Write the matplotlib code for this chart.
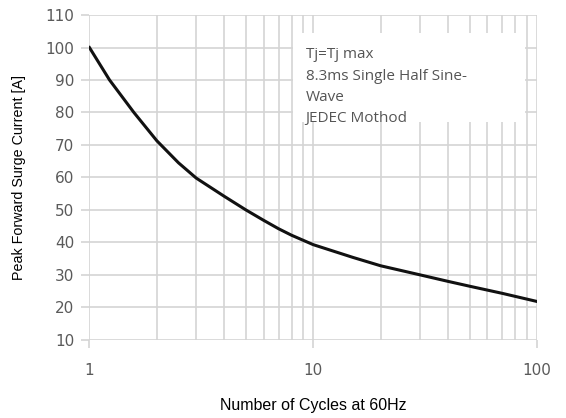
import matplotlib.pyplot as plt
from matplotlib.ticker import LogLocator, NullFormatter, FixedLocator

# Surge current curve
cycles = [1, 1.23, 1.58, 2, 2.5, 3, 4, 5, 6, 7, 8, 10, 15, 20, 30, 40, 50, 70, 100]
current = [100, 90, 80, 71.3, 64.5, 59.8, 54.2, 50, 46.8, 44.2, 42.2, 39.3, 35.4, 32.8,
           30, 28, 26.5, 24.3, 21.8]

y_ticks = [10, 20, 30, 40, 50, 60, 70, 80, 90, 100, 110]
x_ticks = [1, 10, 100]
x_tick_labels = ['1', '10', '100']

note_lines = ['Tj=Tj max', '8.3ms Single Half Sine-', 'Wave', 'JEDEC Mothod']

grid_col = '#d4d4d4'

fig = plt.figure(figsize=(5.66, 4.18), dpi=100)
ax = fig.add_axes([0.158, 0.187, 0.791, 0.777])

ax.plot(cycles, current, color='#111111', lw=2.2, zorder=5)

ax.set_xscale('log')
ax.set_xlim(1, 100)
ax.set_ylim(10, 110)
ax.xaxis.set_major_locator(FixedLocator(x_ticks))
ax.set_xticklabels(x_tick_labels)
ax.xaxis.set_minor_locator(LogLocator(base=10, subs=range(2, 10)))
ax.xaxis.set_minor_formatter(NullFormatter())
ax.set_yticks(y_ticks)

ax.grid(True, which='both', color=grid_col, lw=1.2, zorder=0)
ax.set_axisbelow(True)
for s in ax.spines.values():
    s.set_visible(False)

ax.tick_params(axis='both', which='major', length=6, width=1.2, color=grid_col,
               labelcolor='#5a5a5a', labelsize=11, pad=5)
ax.tick_params(axis='x', which='major', pad=11)
ax.tick_params(axis='x', which='minor', length=0)
for lab in ax.get_xticklabels() + ax.get_yticklabels():
    lab.set_family('DejaVu Sans')

ax.set_xlabel('Number of Cycles at 60Hz', fontsize=11.5, family='Liberation Sans', labelpad=14)
ax.set_ylabel('Peak Forward Surge Current [A]', fontsize=10.3, family='Liberation Sans', labelpad=14)

# white note box covering the grid
box = plt.Rectangle((0.455, 0.671), 0.518, 0.274, transform=ax.transAxes,
                    facecolor='white', edgecolor='none', zorder=3)
ax.add_patch(box)
for i, line in enumerate(note_lines):
    ax.text(0.483, 0.877 - i * 0.0656, line, transform=ax.transAxes, fontsize=11,
            color='#555555', family='Open Sans', va='center', ha='left', zorder=4)

fig.savefig('out.png', dpi=100)
